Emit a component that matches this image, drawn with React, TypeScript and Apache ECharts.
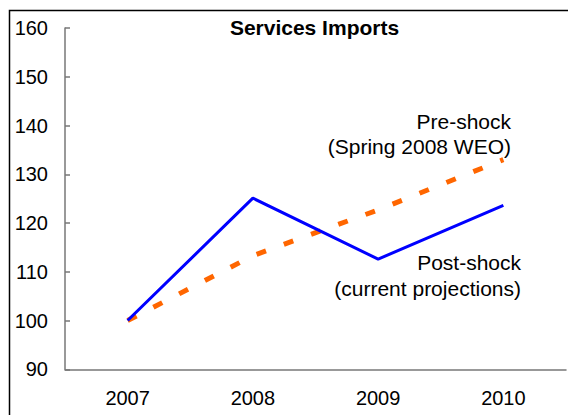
import React, { useEffect, useRef } from "react";
import * as echarts from "echarts";

const years = ["2007", "2008", "2009", "2010"];
const preShock = [100, 113.3, 122.7, 133];
const postShock = [100, 125.1, 112.6, 123.6];
const titleText = "Services Imports";
const preLabel = ["Pre-shock", "(Spring 2008 WEO)"];
const postLabel = ["Post-shock", "(current projections)"];

const FONT = "Arial, 'Liberation Sans', Helvetica, sans-serif";

export default function App() {
  const ref = useRef<HTMLDivElement>(null);
  useEffect(() => {
    if (!ref.current) return;
    const chart = echarts.init(ref.current, null, { renderer: "svg" });
    const axisColor = "#777777";
    chart.setOption({
      animation: false,
      backgroundColor: "#ffffff",
      title: {
        text: titleText,
        left: 309.5,
        top: 12,
        textAlign: "center",
        textStyle: { fontFamily: FONT, fontSize: 21, fontWeight: "bold", color: "#000" },
      },
      grid: { left: 65, right: 2, top: 28, bottom: 45.7, containLabel: false },
      xAxis: {
        type: "category",
        data: years,
        boundaryGap: true,
        axisLine: { lineStyle: { color: axisColor, width: 1.5 } },
        axisTick: { inside: true, length: 5, lineStyle: { color: axisColor, width: 1.5 } },
        axisLabel: { fontFamily: FONT, fontSize: 20, color: "#000", margin: 19 },
        splitLine: { show: false },
      },
      yAxis: {
        type: "value",
        min: 90,
        max: 160,
        interval: 10,
        axisLine: { show: true, lineStyle: { color: axisColor, width: 1.5 } },
        axisTick: { show: true, inside: true, length: 5, lineStyle: { color: axisColor, width: 1.5 } },
        axisLabel: { fontFamily: FONT, fontSize: 20, color: "#000", margin: 17 },
        splitLine: { show: false },
      },
      series: [
        {
          name: "Pre-shock",
          type: "line",
          data: preShock,
          symbol: "none",
          lineStyle: { color: "#FF6600", width: 5, type: [10, 19] },
          z: 2,
        },
        {
          name: "Post-shock",
          type: "line",
          data: postShock,
          symbol: "none",
          lineStyle: { color: "#0000FF", width: 3 },
          z: 3,
        },
      ],
      graphic: [
        {
          type: "rect",
          shape: { x: 9.5, y: 10.5, width: 800, height: 600 },
          style: { fill: "none", stroke: "#000", lineWidth: 1.5 },
          silent: true,
        },
        {
          type: "text",
          x: 511,
          y: 121.7,
          style: { text: preLabel[0], font: `21px ${FONT}`, fill: "#000", textAlign: "right", textVerticalAlign: "middle" },
        },
        {
          type: "text",
          x: 511,
          y: 146.7,
          style: { text: preLabel[1], font: `21px ${FONT}`, fill: "#000", textAlign: "right", textVerticalAlign: "middle" },
        },
        {
          type: "text",
          x: 521,
          y: 262,
          style: { text: postLabel[0], font: `21px ${FONT}`, fill: "#000", textAlign: "right", textVerticalAlign: "middle" },
        },
        {
          type: "text",
          x: 521,
          y: 288,
          style: { text: postLabel[1], font: `21px ${FONT}`, fill: "#000", textAlign: "right", textVerticalAlign: "middle" },
        },
      ],
    });
    return () => chart.dispose();
  }, []);
  return (
    <div
      ref={ref}
      style={{ position: "absolute", left: 0, top: 0, width: 568, height: 415 }}
    />
  );
}
